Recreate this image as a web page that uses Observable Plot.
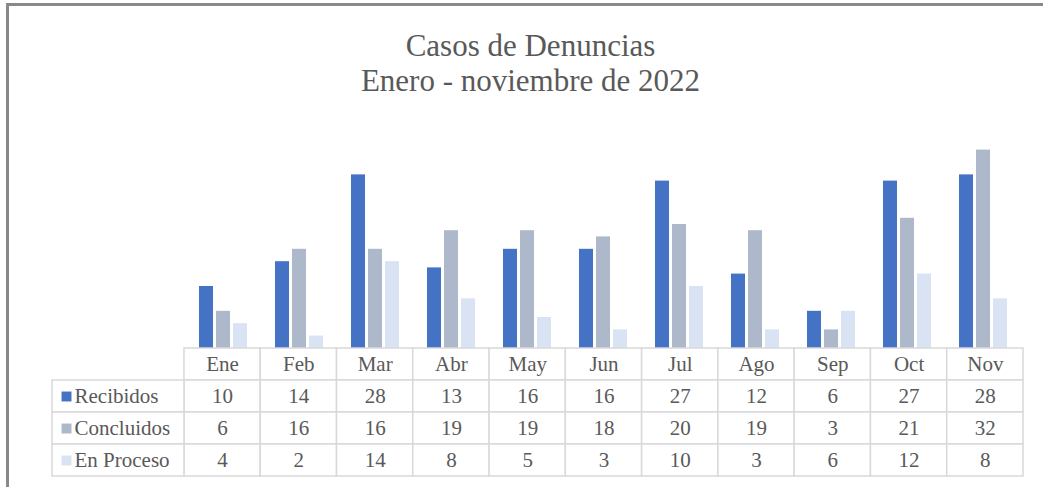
<!DOCTYPE html>
<html>
<head>
<meta charset="utf-8">
<script src="https://cdn.jsdelivr.net/npm/d3@7"></script>
<script src="https://cdn.jsdelivr.net/npm/@observablehq/plot@0.6"></script>
<style>
  html, body { margin: 0; padding: 0; background: #fff; }
  #wrap { position: relative; width: 1043px; height: 487px; overflow: hidden; background: #fff; font-family: "Liberation Serif", "Times New Roman", serif; }
  #frame { position: absolute; left: 6px; top: 3px; width: 1200px; height: 700px; border: 3px solid #898989; box-sizing: border-box; }
  #title { position: absolute; left: 0; width: 1061px; top: 29px; text-align: center; color: #595959; font-size: 31px; line-height: 34.5px; }
  #chart { position: absolute; left: 0; top: 100px; }
  #table { position: absolute; left: 0; top: 347px; }
  svg { overflow: visible; }
</style>
</head>
<body>
<div id="wrap">
  <div id="frame"></div>
  <div id="title">Casos de Denuncias<br>Enero - noviembre de 2022</div>
  <div id="chart"></div>
  <div id="table"></div>
</div>
<script>
// ---- data ----
const months = ["Ene", "Feb", "Mar", "Abr", "May", "Jun", "Jul", "Ago", "Sep", "Oct", "Nov"];
const series = ["Recibidos", "Concluidos", "En Proceso"];
const recibidos  = [10, 14, 28, 13, 16, 16, 27, 12, 6, 27, 28];
const concluidos = [6, 16, 16, 19, 19, 18, 20, 19, 3, 21, 32];
const enProceso  = [4, 2, 14, 8, 5, 3, 10, 3, 6, 12, 8];

// ---- styles / layout ----
const colors = ["#4472C4", "#ADB9CA", "#DAE3F3"];
const textColor = "#595959";
const gridColor = "#d9d9d9";
const fontFamily = "'Liberation Serif', 'Times New Roman', serif";
const W = 1043;
const labelSpan = 1.73; // width of the label column, in month-column units

const valuesBySeries = [recibidos, concluidos, enProceso];
const rows = [];
series.forEach((s, si) => months.forEach((m, mi) => rows.push({ month: m, mi, series: s, si, value: valuesBySeries[si][mi] })));

// ---- bar chart ----
const chart = Plot.plot({
  width: W,
  height: 248,
  marginTop: 0,
  marginBottom: 0,
  marginLeft: 184,
  marginRight: 20,
  fx: { domain: months, paddingInner: 0.367, paddingOuter: 0.1835, axis: null },
  x: { domain: series, paddingInner: 0.18, paddingOuter: 0, axis: null },
  y: { domain: [0, 40], axis: null },
  color: { domain: series, range: colors },
  marks: [
    Plot.barY(rows, { fx: "month", x: "series", y: "value", fill: "series" })
  ]
});
document.getElementById("chart").appendChild(chart);

// ---- data table ----
const headerCells = months.map((m, mi) => ({ x1: mi, x2: mi + 1, y1: 0, y2: 1, label: m }));
const valueCells = rows.map(d => ({ x1: d.mi, x2: d.mi + 1, y1: d.si + 1, y2: d.si + 2, label: String(d.value) }));
const labelCells = series.map((s, si) => ({ x1: -labelSpan, x2: 0, y1: si + 1, y2: si + 2, label: s, series: s }));
const allCells = headerCells.concat(valueCells);

const table = Plot.plot({
  width: W,
  height: 131,
  marginTop: 1,
  marginBottom: 2,
  marginLeft: 52,
  marginRight: 20,
  x: { domain: [-labelSpan, months.length], axis: null },
  y: { domain: [0, 4], reverse: true, axis: null },
  color: { domain: series, range: colors },
  style: { fontFamily, color: textColor },
  marks: [
    Plot.rect(allCells.concat(labelCells), { x1: "x1", x2: "x2", y1: "y1", y2: "y2", fill: "white", stroke: gridColor, strokeWidth: 1.5 }),
    Plot.text(allCells, { x: d => (d.x1 + d.x2) / 2, y: d => (d.y1 + d.y2) / 2, text: "label", fill: textColor, fontSize: 21 }),
    Plot.dot(labelCells, { x: "x1", y: d => (d.y1 + d.y2) / 2, dx: 14, symbol: "square", r: 5.6, fill: "series", stroke: null }),
    Plot.text(labelCells, { x: "x1", y: d => (d.y1 + d.y2) / 2, dx: 22, text: "label", textAnchor: "start", fill: textColor, fontSize: 21 })
  ]
});
document.getElementById("table").appendChild(table);
</script>
</body>
</html>
